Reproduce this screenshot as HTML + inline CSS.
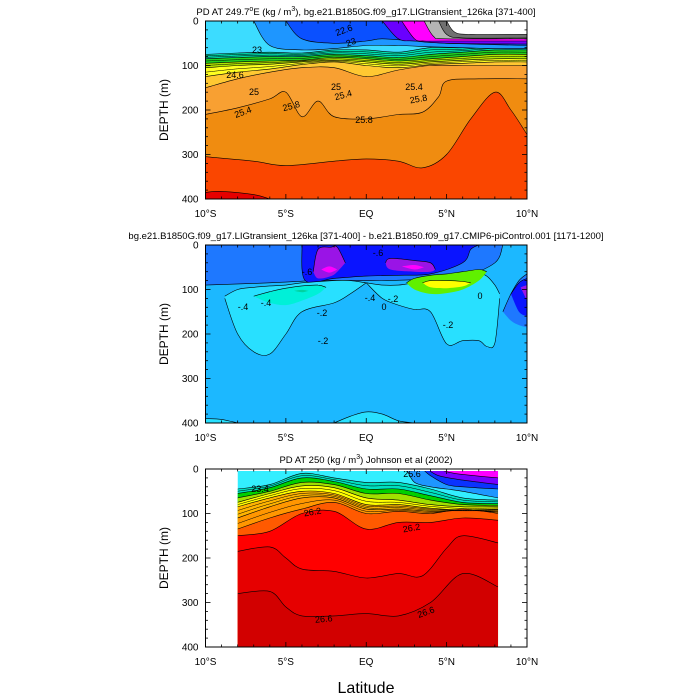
<!DOCTYPE html>
<html><head><meta charset="utf-8">
<style>
body{margin:0;background:#fff;}
svg{display:block;font-family:"Liberation Sans",sans-serif;}
</style></head>
<body>
<svg id="c" width="700" height="700" viewBox="0 0 700 700"></svg>
<script>
// ---------- shared axis data ----------
const xTickLats = [-10,-5,0,5,10];
const xTickLabels = ["10°S","5°S","EQ","5°N","10°N"];
const yTickDepths = [0,100,200,300,400];
const G = [-10,-8,-6,-4,-2,0,2,4,6,8,10];

// ---------- panel 1 (model density) ----------
const p1Lat25_8 = [-10,-8,-6,-5,-4,-3,-2,0,2,3.5,4.5,5,7,10];
const p1Top25_8 = [210,195,175,160,215,180,215,220,210,205,170,135,130,130];
const p1LatRed = [-10,-7,-5,-2,0,2,3.5,5,6.5,8,9,10];
const p1TopRed = [305,315,325,315,310,315,330,300,220,160,200,255];
const p1LatDeep = [-10,-9,-7,-6];
const p1TopDeep = [385,383,390,400];
const p1Teal = [75,72,70,72,65,65,70,60,60,55,55];
const p1Green = [85,82,80,80,75,78,82,75,70,65,65];
const p1YGreen = [95,92,90,88,82,85,90,85,80,75,75];
const p1Yellow = [105,100,97,92,88,92,97,92,88,85,85];
const p1Gold = [125,115,108,98,92,100,105,98,95,92,92];
const p1LOrange = [150,130,115,105,105,125,110,100,100,100,100];
const p1LatBlue = [-7,-6,-4,-2,0,2,4,6,8,10];
const p1BotBlue = [0,55,65,62,55,55,58,60,62,62];
const p1LatDBlue = [-5,-4,-2,0,1,3,5,10];
const p1BotDBlue = [0,40,50,45,40,45,50,55];
const p1LatPurp = [1,2,3,5,10];
const p1BotPurp = [0,40,45,50,52];
const p1LatMag = [2.2,3,3.6,5,10];
const p1BotMag = [0,40,45,45,45];
const p1LatGrey = [3.6,4.2,5,10];
const p1BotGrey = [0,35,40,40];
const p1LatDGrey = [4.5,5,6,10];
const p1BotDGrey = [0,30,38,38];
const p1LatWhite = [5,5.5,6.5,10];
const p1BotWhite = [0,25,30,30];

// ---------- panel 2 (difference) ----------
const p2LatMB = [-10,-6,-3,0,3,6,8,8.5];
const p2BotMB = [90,85,80,80,78,70,40,0];
const p2LatDB = [-4,-3.8,-2,0,2,4,6,6.5,7];
const p2BotDB = [0,80,75,70,68,65,40,10,0];
const p2LatLC1 = [-8.8,-8,-7,-6,-5,-4,-2,-1,0];
const p2TopLC1 = [115,100,95,92,90,85,80,80,85];
const p2BotLC1 = [120,200,240,245,200,150,130,110,85];
const p2LatLC2 = [0,1,2,3,4,5,6,7,7.5,8,8.3];
const p2TopLC2 = [85,90,90,85,80,75,70,65,70,90,110];
const p2BotLC2 = [85,120,135,145,150,222,215,215,228,220,120];
const p2LatTeal = [-7,-6,-5,-4,-3,-2.5];
const p2TopTeal = [115,105,97,92,90,95];
const p2BotTeal = [115,130,135,125,110,95];
const p2LatGrn = [2.5,3,4,5,6,7,7.5];
const p2TopGrn = [85,75,68,65,60,55,60];
const p2BotGrn = [85,100,110,108,100,80,60];
const p2LatYel = [3.5,4,5,6,6.5];
const p2TopYel = [85,80,80,82,85];
const p2BotYel = [85,95,97,93,85];
const p2LatPL = [-3.3,-3,-2.2,-1.8,-1.3];
const p2TopPL = [60,10,5,5,40];
const p2BotPL = [60,75,70,60,40];
const p2LatPR = [1.2,1.5,3,4,4.3];
const p2TopPR = [40,30,35,40,55];
const p2BotPR = [40,55,60,60,55];
const p2LatEB = [8.5,9,9.5,10];
const p2TopEB = [150,110,80,65];
const p2BotEB = [150,170,180,185];
const p2LatED = [9,9.5,10];
const p2TopED = [110,85,75];
const p2BotED = [110,150,160];
const p2LatBot = [-2,-1,0,1,2,3];
const p2TopBot = [400,385,375,380,395,400];

// ---------- panel 3 (Johnson et al) ----------
const G3 = [-8,-6,-4,-2,0,2,4,6,8.2];
const p3Teal = [45,35,10,20,30,30,45,65,70];
const p3Green = [55,42,20,28,45,45,60,75,78];
const p3YGreen = [65,50,30,35,55,55,70,80,82];
const p3Yellow = [75,55,38,42,65,70,80,85,85];
const p3Gold = [85,65,50,55,80,80,88,92,90];
const p3Orange = [110,85,65,65,90,90,95,95,95];
const p3ROrange = [135,110,90,75,100,95,100,90,100];
const p3Red = [150,140,100,95,135,120,120,110,115];
const p3LatDRed = [-8,-6,-5,-4,-2,0,2,3.5,5,6,8.2];
const p3TopDRed = [185,175,200,225,230,245,235,240,178,150,166];
const p3LatDDRed = [-8,-6,-5,-4,-2,0,2,4,6,8.2];
const p3TopDDRed = [280,275,310,330,330,325,330,300,235,265];
const p3LatBlue = [2.5,3,4,5,6,8.2];
const p3BotBlue = [0,30,40,45,50,65];
const p3LatDBlue = [3.5,4,5,6,8.2];
const p3BotDBlue = [0,15,35,40,45];
const p3LatPurp = [3.8,4.5,6,8.2];
const p3BotPurp = [0,15,25,35];
const p3LatMag = [4.5,5.5,8.2];
const p3BotMag = [0,10,20];

const NS="http://www.w3.org/2000/svg";
const svg=document.getElementById('c');
function el(tag,attrs,parent){const e=document.createElementNS(NS,tag);for(const k in attrs)e.setAttribute(k,attrs[k]);(parent||svg).appendChild(e);return e;}
const X0=205.5, XW=321.5;
function xs(lat){return X0+(lat+10)/20*XW;}
function mkY(top){return d=>top+d*0.445;}
function smooth(pts){
  let d="";
  for(let i=0;i<pts.length-1;i++){
    const p0=pts[Math.max(0,i-1)],p1=pts[i],p2=pts[i+1],p3=pts[Math.min(pts.length-1,i+2)];
    const c1=[p1[0]+(p2[0]-p0[0])/6,p1[1]+(p2[1]-p0[1])/6];
    const c2=[p2[0]-(p3[0]-p1[0])/6,p2[1]-(p3[1]-p1[1])/6];
    d+=` C${c1[0].toFixed(1)},${c1[1].toFixed(1)} ${c2[0].toFixed(1)},${c2[1].toFixed(1)} ${p2[0].toFixed(1)},${p2[1].toFixed(1)}`;
  }
  return d;
}
function band(g,ys,lats,top,bot,color,name,line){
  const tp=lats.map((l,i)=>[xs(l),ys(top?top[i]:0)]);
  const bp=lats.map((l,i)=>[xs(l),ys(bot?bot[i]:400)]).reverse();
  let d=`M${tp[0][0]},${tp[0][1]}`+smooth(tp)+` L${bp[0][0]},${bp[0][1]}`+smooth(bp)+"Z";
  const p=el('path',{d:d,fill:color,stroke:'none'},g);
  
  
  if(line){
    const lp=(line==='bot'?bp.slice().reverse():tp);
    const l=el('path',{d:`M${lp[0][0]},${lp[0][1]}`+smooth(lp),fill:'none',stroke:'#000','stroke-width':0.6},g);
    
    
  }
}
// intermediate contour lines between two boundaries (visual density of isolines)
function midLines(g,ys,lats,a,b,n){
  for(let k=1;k<n;k++){
    const f=k/n;
    const pts=lats.map((l,i)=>[xs(l),ys(a[i]+(b[i]-a[i])*f)]);
    const l=el('path',{d:`M${pts[0][0]},${pts[0][1]}`+smooth(pts),fill:'none',stroke:'#000','stroke-width':0.5},g);
    
    
  }
}
function label(g,x,y,t,rot){
  const e=el('text',{x:x,y:y,'font-size':9,'text-anchor':'middle',transform:`rotate(${rot||0} ${x} ${y})`},g);
  e.textContent=t;
  
  
}
function axes(top,name,title){
  const g=el('g',{});
  
  
  const ys=mkY(top), bot=ys(400);
  el('rect',{x:X0,y:top,width:XW,height:bot-top,fill:'none',stroke:'#000','stroke-width':1},g);
  for(let lat=-10;lat<=10;lat++){
    const major=lat%5===0, L=major?5:2.5, x=xs(lat);
    el('line',{x1:x,y1:top,x2:x,y2:top+L,stroke:'#000','stroke-width':0.8},g);
    el('line',{x1:x,y1:bot,x2:x,y2:bot-L,stroke:'#000','stroke-width':0.8},g);
  }
  for(let d=0;d<=400;d+=20){
    const major=d%100===0, L=major?5:2.5, y=ys(d);
    el('line',{x1:X0,y1:y,x2:X0+L,y2:y,stroke:'#000','stroke-width':0.8},g);
    el('line',{x1:X0+XW,y1:y,x2:X0+XW-L,y2:y,stroke:'#000','stroke-width':0.8},g);
  }
  xTickLats.forEach((lat,i)=>{
    const t=el('text',{x:xs(lat),y:bot+18,'font-size':10,'text-anchor':'middle'},g);
    t.textContent=xTickLabels[i];
    
    
  });
  yTickDepths.forEach(d=>{
    const t=el('text',{x:X0-7,y:ys(d)+3.5,'font-size':10,'text-anchor':'end'},g);
    t.textContent=d;
    
    
  });
  const yt=el('text',{x:168,y:(top+bot)/2,'font-size':12,'text-anchor':'middle',transform:`rotate(-90 168 ${(top+bot)/2})`},g);
  yt.textContent='DEPTH (m)';
  
  
  const tt=el('text',{x:366,y:top-6,'font-size':9.5,'text-anchor':'middle'},g);
  
  
  tt.innerHTML=title;
}

// ===== Panel 1 =====
(function(){
  const top=21, ys=mkY(top);
  const g=el('g',{'clip-path':'url(#cp1)'});
  
  
  const cp=el('clipPath',{id:'cp1'});el('rect',{x:X0,y:top,width:XW,height:178},cp);
  band(g,ys,G,null,null,'#3cdcff','p1-cyan');
  band(g,ys,G,p1Teal,null,'#00e0b0','p1-teal',1);
  band(g,ys,G,p1Green,null,'#20d020','p1-green',1);
  band(g,ys,G,p1YGreen,null,'#b4e600','p1-ygreen',1);
  band(g,ys,G,p1Yellow,null,'#ffff20','p1-yellow',1);
  band(g,ys,G,p1Gold,null,'#ffc832','p1-gold',1);
  band(g,ys,G,p1LOrange,null,'#f8a032','p1-lorange',1);
  band(g,ys,p1Lat25_8,p1Top25_8,null,'#f08c10','p1-orange',1);
  band(g,ys,p1LatRed,p1TopRed,null,'#fa4600','p1-redorange',1);
  band(g,ys,p1LatDeep,p1TopDeep,null,'#e60000','p1-red',1);
  midLines(g,ys,G,p1Teal,p1Green,3);
  midLines(g,ys,G,p1Green,p1YGreen,2);
  midLines(g,ys,G,p1YGreen,p1Yellow,2);
  midLines(g,ys,G,p1Yellow,p1Gold,2);
  band(g,ys,p1LatBlue,null,p1BotBlue,'#1e96ff','p1-blue','bot');
  band(g,ys,p1LatDBlue,null,p1BotDBlue,'#0a50ff','p1-darkblue','bot');
  band(g,ys,p1LatPurp,null,p1BotPurp,'#6a00ff','p1-purple','bot');
  band(g,ys,p1LatMag,null,p1BotMag,'#ff00ff','p1-magenta','bot');
  band(g,ys,p1LatGrey,null,p1BotGrey,'#b4b4b4','p1-grey','bot');
  band(g,ys,p1LatDGrey,null,p1BotDGrey,'#707070','p1-darkgrey','bot');
  band(g,ys,p1LatWhite,null,p1BotWhite,'#ffffff','p1-white','bot');
  label(g,345,33,'22.6',-20);label(g,257,53,'23');label(g,352,45,'23',-20);
  label(g,235,78,'24.6');label(g,254,95,'25');label(g,244,115,'25.4',-20);
  label(g,292,109,'25.8',-15);label(g,364,123,'25.8');label(g,419,102,'25.8',-10);
  label(g,336,90,'25');label(g,344,98,'25.4',-15);label(g,414,90,'25.4');
  axes(top,'panel1','PD AT 249.7<tspan font-size="7" dy="-4">o</tspan><tspan dy="4">E (kg / m</tspan><tspan font-size="7" dy="-4">3</tspan><tspan dy="4">), bg.e21.B1850G.f09_g17.LIGtransient_126ka [371-400]</tspan>');
})();

// ===== Panel 2 =====
(function(){
  const top=245, ys=mkY(top);
  const g=el('g',{'clip-path':'url(#cp2)'});
  
  
  const cp=el('clipPath',{id:'cp2'});el('rect',{x:X0,y:top,width:XW,height:178},cp);
  band(g,ys,G,null,null,'#1cb8ff','p2-base');
  band(g,ys,p2LatBot,p2TopBot,null,'#28e0ff','p2-bottom-lobe',1);
  band(g,ys,[-10,-9,-8],[390,392,400],null,'#28e0ff','p2-bottom-left',1);
  band(g,ys,p2LatMB,null,p2BotMB,'#1e78ff','p2-medblue','bot');
  band(g,ys,p2LatDB,null,p2BotDB,'#0a14ff','p2-darkblue','bot');
  band(g,ys,p2LatLC1,p2TopLC1,p2BotLC1,'#28e0ff','p2-left-lobe',1);
  band(g,ys,p2LatLC1,p2BotLC1,p2BotLC1,'#28e0ff','p2-left-lobe-b',1);
  band(g,ys,p2LatLC2,p2TopLC2,p2BotLC2,'#28e0ff','p2-right-lobe',1);
  band(g,ys,p2LatLC2,p2BotLC2,p2BotLC2,'#28e0ff','p2-right-lobe-b',1);
  band(g,ys,p2LatTeal,p2TopTeal,p2BotTeal,'#00f0d8','p2-left-teal',1);
  band(g,ys,[-4.5,-4,-3.6],[103,101,103],[103,106,103],'#00d2a0','p2-left-core');
  band(g,ys,p2LatGrn,p2TopGrn,p2BotGrn,'#60f000','p2-right-green',1);
  band(g,ys,p2LatYel,p2TopYel,p2BotYel,'#ffff00','p2-right-yellow',1);
  band(g,ys,p2LatPL,p2TopPL,p2BotPL,'#9a14e6','p2-purple-left',1);
  band(g,ys,p2LatPR,p2TopPR,p2BotPR,'#9a14e6','p2-purple-right',1);
  band(g,ys,[-2.8,-2.3,-1.8],[55,48,55],[55,62,55],'#ff00ff','p2-mag-left');
  band(g,ys,[2.2,3,3.6],[48,45,50],[48,55,50],'#ff00ff','p2-mag-right');
  band(g,ys,p2LatEB,p2TopEB,p2BotEB,'#1e78ff','p2-edge-blue',1);
  band(g,ys,p2LatED,p2TopED,p2BotED,'#0a14ff','p2-edge-dblue',1);
  band(g,ys,[9.6,10],[95,90],[95,125],'#9a14e6','p2-edge-purple');
  label(g,243,310,'-.4');label(g,266,306,'-.4');label(g,322,316,'-.2');label(g,370,301,'-.4');
  label(g,323,344,'-.2');label(g,448,328,'-.2');label(g,384,310,'0');label(g,480,299,'0');label(g,393,302,'-.2');
  label(g,378,256,'-.6');label(g,307,275,'-.6');
  axes(top,'panel2','bg.e21.B1850G.f09_g17.LIGtransient_126ka [371-400] - b.e21.B1850.f09_g17.CMIP6-piControl.001 [1171-1200]');
})();

// ===== Panel 3 =====
(function(){
  const top=469, ys=mkY(top);
  const g=el('g',{'clip-path':'url(#cp3)'});
  
  
  const cp=el('clipPath',{id:'cp3'});el('rect',{x:xs(-8),y:top+2,width:xs(8.2)-xs(-8),height:176},cp);
  band(g,ys,G3,null,null,'#33eeff','p3-cyan');
  band(g,ys,p3LatBlue,null,p3BotBlue,'#1e96ff','p3-blue','bot');
  band(g,ys,p3LatDBlue,null,p3BotDBlue,'#0a32ff','p3-darkblue','bot');
  band(g,ys,p3LatPurp,null,p3BotPurp,'#7800ff','p3-purple','bot');
  band(g,ys,p3LatMag,null,p3BotMag,'#ff00ff','p3-magenta','bot');
  band(g,ys,G3,p3Teal,null,'#00e0c0','p3-teal',1);
  band(g,ys,G3,p3Green,null,'#00d000','p3-green',1);
  band(g,ys,G3,p3YGreen,null,'#a0e000','p3-ygreen',1);
  band(g,ys,G3,p3Yellow,null,'#ffff00','p3-yellow',1);
  band(g,ys,G3,p3Gold,null,'#ffb400','p3-gold',1);
  band(g,ys,G3,p3Orange,null,'#ff9600','p3-orange',1);
  band(g,ys,G3,p3ROrange,null,'#ff5a00','p3-redorange',1);
  band(g,ys,G3,p3Red,null,'#ff0000','p3-red',1);
  band(g,ys,p3LatDRed,p3TopDRed,null,'#e60000','p3-darkred',1);
  band(g,ys,p3LatDDRed,p3TopDDRed,null,'#d20000','p3-deepred',1);
  midLines(g,ys,G3,p3Teal,p3Green,2);
  midLines(g,ys,G3,p3Yellow,p3Gold,2);
  midLines(g,ys,G3,p3Gold,p3Orange,3);
  midLines(g,ys,G3,p3Orange,p3ROrange,2);
  label(g,260,492,'23.4');label(g,313,515,'26.2',-10);label(g,412,531,'26.2',-10);
  label(g,324,622,'26.6',-5);label(g,427,615,'26.6',-20);label(g,412,477,'25.6');
  axes(top,'panel3','PD AT 250 (kg / m<tspan font-size="7" dy="-4">3</tspan><tspan dy="4">) Johnson et al (2002)</tspan>');
})();

const xl=el('text',{x:366,y:693,'font-size':16,'text-anchor':'middle'});
xl.textContent='Latitude';


</script>
</body></html>
